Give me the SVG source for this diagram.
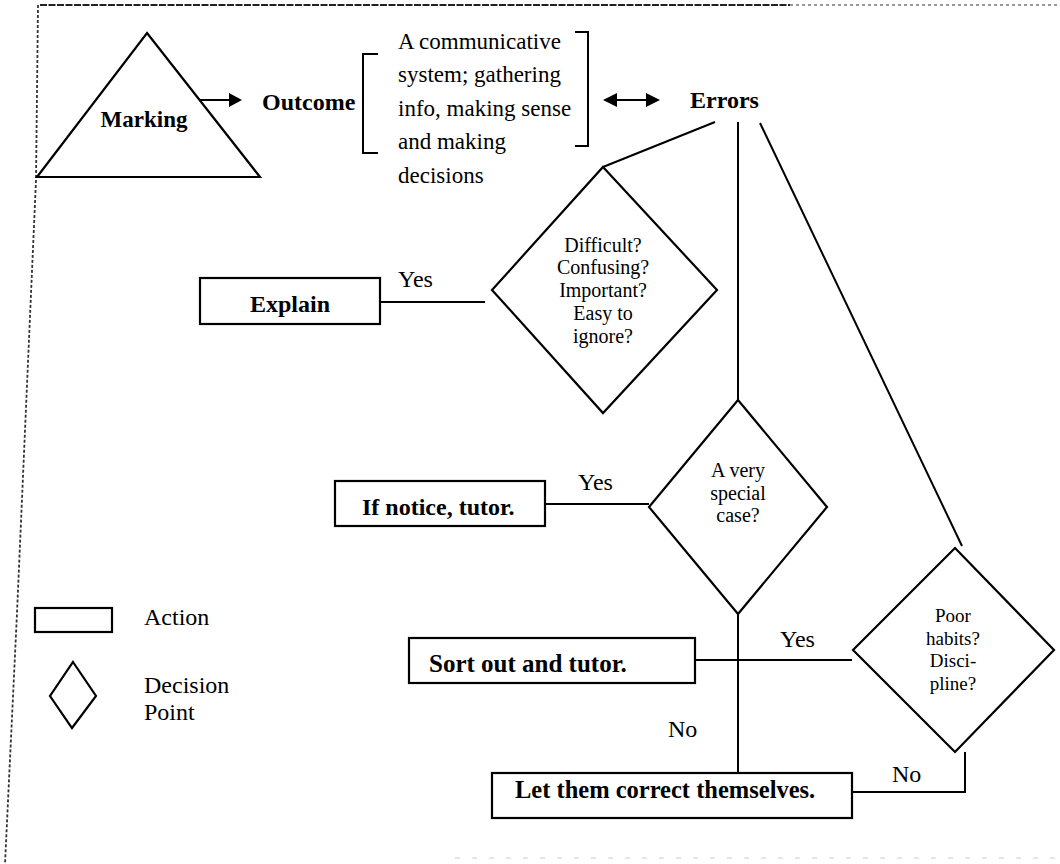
<svg xmlns="http://www.w3.org/2000/svg" width="1060" height="864" viewBox="0 0 1060 864">
<style>
.ln{stroke:#000;stroke-width:2;fill:none}
.sh{fill:#fff;stroke:#000;stroke-width:2.2}
.b{font-family:"Liberation Serif","Times New Roman",serif;font-weight:bold;fill:#000}
.r{font-family:"Liberation Serif","Times New Roman",serif;fill:#000}
.c{text-anchor:middle}
</style>
<rect width="1060" height="864" fill="#fff"/>
<g id="border">
<line x1="40" y1="5" x2="790" y2="5" stroke="#222" stroke-width="2" stroke-dasharray="7 1.5"/>
<line x1="790" y1="5" x2="1060" y2="5" stroke="#777" stroke-width="1.5" stroke-dasharray="3 3"/>
<polyline points="38,5 36,180 17,613 5,864" fill="none" stroke="#333" stroke-width="1.8" stroke-dasharray="3 2"/>
<line x1="455" y1="858" x2="1055" y2="858" stroke="#ccc" stroke-width="1.2" stroke-dasharray="5 12"/>
</g>
<g id="connectors">
<line class="ln" x1="200" y1="100" x2="231" y2="100" stroke-width="4"/>
<polygon points="229,93 242,100 229,107" fill="#000"/>
<line class="ln" x1="615" y1="100" x2="648" y2="100" stroke-width="4"/>
<polygon points="603,100 617,93 617,107" fill="#000"/>
<polygon points="660,100 646,93 646,107" fill="#000"/>
<line class="ln" x1="715" y1="122" x2="603" y2="167"/>
<line class="ln" x1="738" y1="122" x2="738" y2="400"/>
<line class="ln" x1="760" y1="123" x2="962" y2="546"/>
<line class="ln" x1="380" y1="302" x2="485" y2="302" stroke-width="1.6"/>
<line class="ln" x1="545" y1="504" x2="649" y2="504" stroke-width="1.6"/>
<line class="ln" x1="738" y1="614" x2="738" y2="773"/>
<line class="ln" x1="695" y1="660" x2="852" y2="660" stroke-width="1.6"/>
<polyline class="ln" points="965,752 965,792 852,792"/>
<text class="r" x="398" y="287" font-size="24">Yes</text>
<text class="r" x="578" y="490" font-size="24">Yes</text>
<text class="r" x="780" y="647" font-size="24">Yes</text>
<text class="r" x="668" y="737" font-size="24">No</text>
<text class="r" x="892" y="782" font-size="24">No</text>
</g>
<g id="marking">
<polygon class="sh" points="147,33 260,177 37,177"/>
<text class="b c" x="144" y="127" font-size="23">Marking</text>
</g>
<g id="outcome">
<text class="b" x="262" y="110" font-size="24">Outcome</text>
</g>
<g id="outcome-desc">
<path class="ln" d="M378,54 H363 V153 H378"/>
<path class="ln" d="M575,32 H588 V146 H575"/>
<text class="r" font-size="23"><tspan x="398" y="49">A communicative</tspan><tspan x="398" y="82">system; gathering</tspan><tspan x="398" y="116">info, making sense</tspan><tspan x="398" y="149">and making</tspan><tspan x="398" y="183">decisions</tspan></text>
</g>
<g id="errors">
<text class="b" x="690" y="108" font-size="24">Errors</text>
</g>
<g id="d1">
<polygon class="sh" points="603,167 717,290 603,413 492,290"/>
<text class="r c" font-size="20"><tspan x="603" y="252">Difficult?</tspan><tspan x="603" y="274">Confusing?</tspan><tspan x="603" y="297">Important?</tspan><tspan x="603" y="320">Easy to</tspan><tspan x="603" y="343">ignore?</tspan></text>
</g>
<g id="explain">
<rect class="sh" x="200" y="278" width="180" height="46"/>
<text class="b c" x="290" y="312" font-size="24">Explain</text>
</g>
<g id="d2">
<polygon class="sh" points="738,400 827,507 738,614 649,507"/>
<text class="r c" font-size="20"><tspan x="738" y="477">A very</tspan><tspan x="738" y="500">special</tspan><tspan x="738" y="522">case?</tspan></text>
</g>
<g id="notice">
<rect class="sh" x="335" y="481" width="210" height="45"/>
<text class="b" x="362" y="515" font-size="24">If notice, tutor.</text>
</g>
<g id="d3">
<polygon class="sh" points="955,548 1054,650 955,752 853,650"/>
<text class="r c" font-size="19"><tspan x="953" y="622">Poor</tspan><tspan x="953" y="645">habits?</tspan><tspan x="953" y="667">Disci-</tspan><tspan x="953" y="690">pline?</tspan></text>
</g>
<g id="sortout">
<rect class="sh" x="409" y="638" width="286" height="45"/>
<text class="b" x="429" y="672" font-size="25">Sort out and tutor.</text>
</g>
<g id="letthem">
<rect class="sh" x="492" y="773" width="360" height="45"/>
<text class="b" x="515" y="798" font-size="24.5">Let them correct themselves.</text>
</g>
<g id="legend">
<rect class="sh" x="35" y="608" width="77" height="24"/>
<text class="r" x="144" y="625" font-size="24">Action</text>
<polygon class="sh" points="73,662 96,696 72,728 50,696"/>
<text class="r" font-size="24"><tspan x="144" y="693">Decision</tspan><tspan x="144" y="720">Point</tspan></text>
</g>
</svg>
